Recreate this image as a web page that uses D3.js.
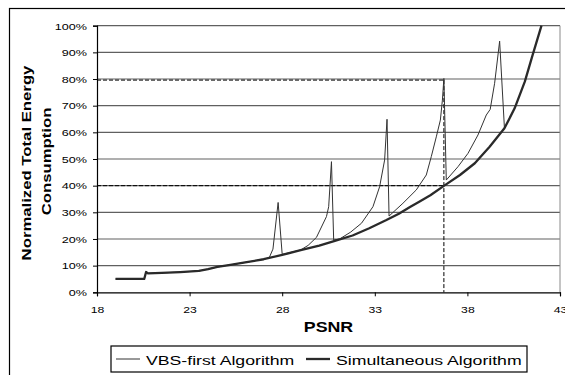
<!DOCTYPE html>
<html>
<head>
<meta charset="utf-8">
<script src="https://cdn.jsdelivr.net/npm/d3@7"></script>
<style>
  body { margin: 0; background: #fff; }
  text { font-family: "Liberation Sans", Arial, sans-serif; fill: #000; }
</style>
</head>
<body>
<div id="chart"></div>
<script>
// Energy vs PSNR: two algorithms

// Simultaneous Algorithm (thick line)
var simPsnr = [19.0, 20.55, 20.65, 20.75, 21.5, 22.5, 23.5, 24.0, 24.5, 25.2, 26.0, 27.0, 28.0, 29.0, 30.0, 30.8, 31.8,
               32.7, 33.6, 34.3, 34.9, 35.4, 36.0, 36.75, 37.6, 38.4, 39.2, 40.0, 40.55, 41.1, 41.5, 42.0];
var simEnergy = [5.0, 5.0, 7.6, 7.1, 7.3, 7.6, 8.0, 8.7, 9.5, 10.3, 11.2, 12.4, 14.0, 15.8, 17.5, 19.2, 21.3,
                 24.0, 27.0, 29.5, 32.0, 34.0, 36.4, 40.0, 44.0, 48.4, 54.6, 61.5, 69.0, 79.0, 88.5, 100];

// VBS-first Algorithm (thin line)
var vbsPsnr = [19.0, 20.55, 20.65, 20.75, 21.5, 22.5, 23.5, 24.0, 24.5, 25.2, 26.0, 27.0, 27.3, 27.5, 27.78, 28.0,
               29.0, 29.4, 29.85, 30.39, 30.51, 30.66, 30.78, 31.1, 31.7, 32.28, 32.9, 33.26, 33.53, 33.66, 33.77,
               34.52, 35.24, 35.78, 36.05, 36.32, 36.54, 36.65, 36.73, 36.86,
               37.49, 38.03, 38.57, 39.02, 39.23, 39.47, 39.74, 40.0];
var vbsEnergy = [5.0, 5.0, 7.6, 7.1, 7.3, 7.6, 8.0, 8.7, 9.5, 10.3, 11.2, 12.4, 13.0, 16.2, 33.7, 14.2,
                 15.9, 17.6, 20.6, 28.4, 32.1, 49.0, 19.6, 20.0, 22.6, 25.9, 32.1, 39.6, 49.6, 64.9, 28.6,
                 33.4, 38.4, 44.0, 50.9, 58.3, 64.6, 72.1, 80.2, 42.1,
                 47.1, 52.1, 59.0, 66.5, 68.6, 78.4, 94.2, 61.5];

// Reference guides (dashed)
var guideLevels = [79.6, 40.0];
var guidePsnr = 36.73;

var xTicks = [18, 23, 28, 33, 38, 43];
var yTicks = [0, 10, 20, 30, 40, 50, 60, 70, 80, 90, 100];
var seriesNames = ["VBS-first Algorithm", "Simultaneous Algorithm"];

var svgWidth = 565;
var svgHeight = 375;
var margin = { top: 25.7, right: 5, bottom: 82.7, left: 97 };
var width = svgWidth - margin.left - margin.right;
var height = svgHeight - margin.top - margin.bottom;

var svg = d3.select("#chart")
    .append("svg")
    .attr("width", svgWidth)
    .attr("height", svgHeight);

// outer frame (runs off the right and bottom edges)
svg.append("rect")
    .attr("x", 9.5)
    .attr("y", 8.5)
    .attr("width", 600)
    .attr("height", 400)
    .attr("fill", "none")
    .attr("stroke", "#000")
    .attr("stroke-width", 1.2);

var chartGroup = svg.append("g")
    .attr("transform", `translate(${margin.left}, ${margin.top})`);

var xScale = d3.scaleLinear().domain([18, 43]).range([0, width]);
var yScale = d3.scaleLinear().domain([0, 100]).range([height, 0]);

// gridlines
chartGroup.selectAll(".grid")
    .data(yTicks.filter(d => d > 0))
    .enter()
    .append("line")
    .attr("x1", 0)
    .attr("x2", width)
    .attr("y1", d => yScale(d))
    .attr("y2", d => yScale(d))
    .attr("stroke", "#606060")
    .attr("stroke-width", 1.2);

// right edge of plot area
chartGroup.append("line")
    .attr("x1", width).attr("x2", width)
    .attr("y1", 0).attr("y2", height)
    .attr("stroke", "#8a8a8a")
    .attr("stroke-width", 1);

// axes
var leftAxis = d3.axisLeft(yScale).tickValues(yTicks).tickSize(4).tickFormat(d => d + "%");
var bottomAxis = d3.axisBottom(xScale).tickValues(xTicks).tickSize(4).tickFormat(d3.format("d"));

var yAxisG = chartGroup.append("g").call(leftAxis);
var xAxisG = chartGroup.append("g").attr("transform", `translate(0, ${height})`).call(bottomAxis);

[yAxisG, xAxisG].forEach(function (g) {
    g.select(".domain").attr("stroke", "#000").attr("stroke-width", 1.2);
    g.selectAll(".tick line").attr("stroke", "#000");
    g.selectAll(".tick text").attr("font-size", "9.4px").attr("fill", "#000");
});

yAxisG.selectAll(".tick text")
    .attr("x", null)
    .attr("dy", null)
    .attr("transform", `translate(-10, 3.3) scale(1.34, 1)`)
    .attr("text-anchor", "end");

xAxisG.selectAll(".tick text")
    .attr("y", null)
    .attr("dy", null)
    .attr("transform", `translate(0, 21) scale(1.3, 1)`);

// dashed guides
chartGroup.selectAll(".guideH")
    .data(guideLevels)
    .enter()
    .append("line")
    .attr("x1", 0)
    .attr("x2", xScale(guidePsnr))
    .attr("y1", d => yScale(d))
    .attr("y2", d => yScale(d))
    .attr("stroke", "#000")
    .attr("stroke-width", 1)
    .attr("stroke-dasharray", "4,2");

chartGroup.append("line")
    .attr("x1", xScale(guidePsnr))
    .attr("x2", xScale(guidePsnr))
    .attr("y1", yScale(guideLevels[0]))
    .attr("y2", yScale(0))
    .attr("stroke", "#000")
    .attr("stroke-width", 1)
    .attr("stroke-dasharray", "4,2");

// series lines
var line = d3.line()
    .x(d => xScale(d[0]))
    .y(d => yScale(d[1]));

chartGroup.append("path")
    .datum(vbsPsnr.map((p, i) => [p, vbsEnergy[i]]))
    .attr("d", line)
    .attr("fill", "none")
    .attr("stroke", "#333")
    .attr("stroke-width", 1);

chartGroup.append("path")
    .datum(simPsnr.map((p, i) => [p, simEnergy[i]]))
    .attr("d", line)
    .attr("fill", "none")
    .attr("stroke", "#2a2a2a")
    .attr("stroke-width", 2.3)
    .attr("stroke-linejoin", "round");

// axis titles
svg.append("text")
    .attr("transform", `translate(328.5, 331.5) scale(1.15, 1)`)
    .attr("text-anchor", "middle")
    .attr("font-size", "15.5px")
    .attr("font-weight", "bold")
    .text("PSNR");

svg.append("text")
    .attr("transform", "translate(31, 163) rotate(-90) scale(1.24, 1)")
    .attr("text-anchor", "middle")
    .attr("font-size", "13.5px")
    .attr("font-weight", "bold")
    .text("Normalized Total Energy");

svg.append("text")
    .attr("transform", "translate(51, 161.5) rotate(-90) scale(1.24, 1)")
    .attr("text-anchor", "middle")
    .attr("font-size", "13.5px")
    .attr("font-weight", "bold")
    .text("Consumption");

// legend
var legend = svg.append("g");
legend.append("rect")
    .attr("x", 111)
    .attr("y", 346)
    .attr("width", 416)
    .attr("height", 26)
    .attr("fill", "#fff")
    .attr("stroke", "#000")
    .attr("stroke-width", 1.2);

var legendItems = [
    { name: seriesNames[0], x: 116, w: 1, color: "#333" },
    { name: seriesNames[1], x: 306, w: 2.3, color: "#2a2a2a" }
];

legend.selectAll(".item")
    .data(legendItems)
    .enter()
    .append("line")
    .attr("x1", d => d.x)
    .attr("x2", d => d.x + 24)
    .attr("y1", 359)
    .attr("y2", 359)
    .attr("stroke", d => d.color)
    .attr("stroke-width", d => d.w);

legend.selectAll(".label")
    .data(legendItems)
    .enter()
    .append("text")
    .attr("transform", d => `translate(${d.x + 30}, 364.5) scale(1.3, 1)`)
    .attr("font-size", "13.6px")
    .text(d => d.name);
</script>
</body>
</html>
